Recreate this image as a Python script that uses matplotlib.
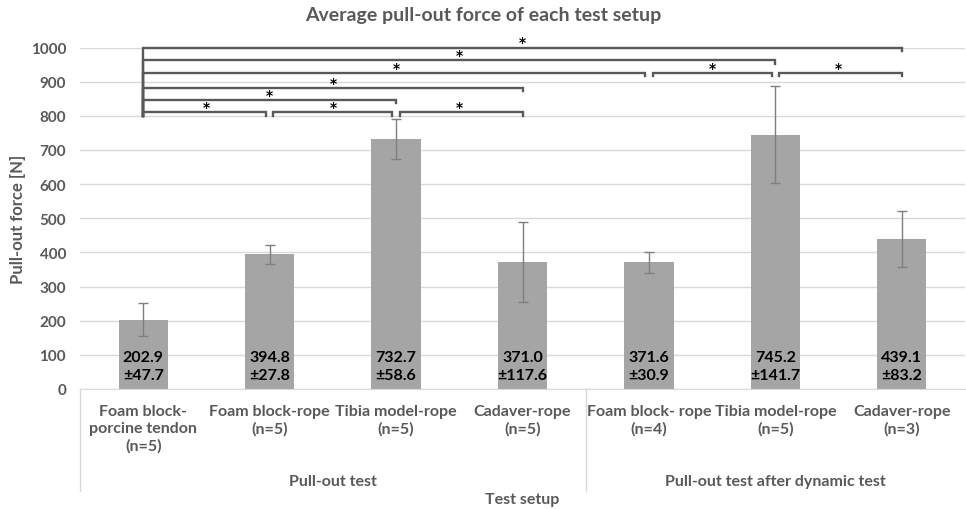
import matplotlib
matplotlib.use("Agg")
import matplotlib.pyplot as plt
import numpy as np

# data
categories = [
    "Foam block-\nporcine tendon\n(n=5)",
    "Foam block-rope\n(n=5)",
    "Tibia model-rope\n(n=5)",
    "Cadaver-rope\n(n=5)",
    "Foam block- rope\n(n=4)",
    "Tibia model-rope\n(n=5)",
    "Cadaver-rope\n(n=3)",
]
groups = ["Pull-out test", "Pull-out test after dynamic test"]
group_sizes = [4, 3]
means = [202.9, 394.8, 732.7, 371.0, 371.6, 745.2, 439.1]
sds = [47.7, 27.8, 58.6, 117.6, 30.9, 141.7, 83.2]
sig_pairs = [(0, 1), (1, 2), (2, 3), (0, 2), (0, 3), (0, 4), (4, 5), (5, 6), (0, 5), (0, 6)]
sig_levels = [810, 810, 810, 847, 882, 926, 926, 926, 963, 1000]

plt.rcParams["font.family"] = ["Lato", "DejaVu Sans"]
plt.rcParams["font.weight"] = "bold"

GREY_TXT = "#595959"
GRID = "#D9D9D9"
BAR = "#A5A5A5"
BRK = "#595959"

W, H = 966, 510
fig = plt.figure(figsize=(W / 100, H / 100), dpi=100)
ax = fig.add_axes([80 / W, (H - 390) / H, 885 / W, 341.5 / H])

x = np.arange(len(means))
ax.bar(x, means, width=0.39, color=BAR, zorder=2)
ax.errorbar(x, means, yerr=sds, fmt="none", ecolor="#7F7F7F", elinewidth=1, capsize=3.5, capthick=1, zorder=3)

for xi, m, s in zip(x, means, sds):
    ax.text(xi, 67, f"{m:.1f}\n±{s:.1f}", ha="center", va="center", fontsize=11.5,
            fontweight="bold", color="black", linespacing=1.3, zorder=4)

ax.set_xlim(-0.5, len(means) - 0.5)
ax.set_ylim(0, 1000)
ax.set_yticks(np.arange(0, 1001, 100))
ax.yaxis.grid(True, color=GRID, linewidth=1, zorder=0)
ax.set_axisbelow(True)
for sp in ["top", "right", "left"]:
    ax.spines[sp].set_visible(False)
ax.spines["bottom"].set_color(GRID)
ax.tick_params(axis="y", length=0, pad=10, labelsize=11, labelcolor=GREY_TXT)
ax.tick_params(axis="x", length=0)
ax.set_xticks([])
ax.set_ylabel("Pull-out force [N]", fontsize=12, fontweight="bold", color=GREY_TXT)
ax.yaxis.set_label_coords(-54 / 885, 0.5)

# significance brackets
tick = 10
gap = 0.03
for (i, j), lvl in zip(sig_pairs, sig_levels):
    xl = i + (gap if any(p[1] == i and l == lvl for p, l in zip(sig_pairs, sig_levels)) else 0)
    xr = j - (gap if any(p[0] == j and l == lvl for p, l in zip(sig_pairs, sig_levels)) else 0)
    left_bottom = 800 if i == 0 else lvl - tick
    ax.plot([xl, xl, xr, xr], [left_bottom, lvl, lvl, lvl - tick], color=BRK, lw=1.7,
            clip_on=False, zorder=5, solid_joinstyle="miter")
    ax.text((i + j) / 2, lvl + 15, "*", ha="center", va="center", fontsize=10,
            family="DejaVu Sans", fontweight="bold", color="black", clip_on=False)

# multi-level category axis
trans = ax.get_xaxis_transform()
for xi, lab in zip(x, categories):
    ax.text(xi, -15 / 341.5, lab, transform=trans, ha="center", va="top",
            fontsize=11.5, color=GREY_TXT, linespacing=1.25)

bounds = np.concatenate([[0], np.cumsum(group_sizes)]) - 0.5
for k, g in enumerate(groups):
    ax.text((bounds[k] + bounds[k + 1]) / 2, -92 / 341.5, g, transform=trans, ha="center",
            va="center", fontsize=11.5, color=GREY_TXT)
for b in bounds[:-1]:
    ax.plot([b, b], [0, -102 / 341.5], transform=trans, color=GRID, lw=1, clip_on=False)

ax.text(0.5, -110 / 341.5, "Test setup", transform=ax.transAxes, ha="center", va="center",
        fontsize=11.5, fontweight="bold", color=GREY_TXT)

fig.text(0.5, 1 - 16 / H, "Average pull-out force of each test setup", ha="center", va="center",
         fontsize=14, fontweight="bold", color=GREY_TXT)

fig.savefig("out.png", dpi=100)
